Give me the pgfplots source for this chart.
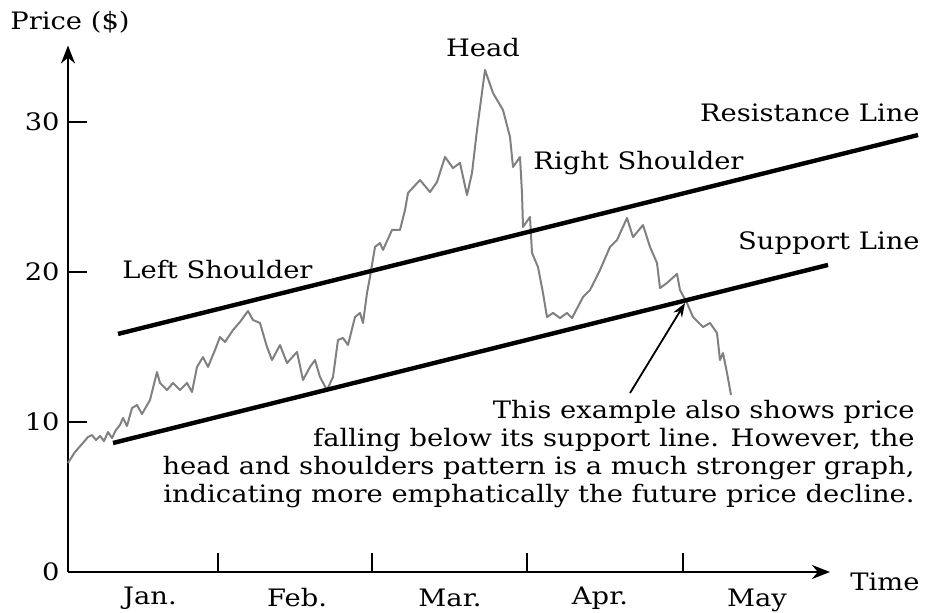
\documentclass[border=0pt]{standalone}
\usepackage{fontspec}
\setmainfont[FakeStretch=1.14]{DejaVu Serif}
\usepackage{pgfplots}
\pgfplotsset{compat=1.18}
\usetikzlibrary{arrows.meta}

\begin{document}
\fontsize{12}{14}\selectfont
\begin{tikzpicture}
\begin{axis}[
    x=0.5pt, y=7.5pt,
    xmin=0, xmax=762,
    ymin=0, ymax=35.1,
    axis lines=left,
    axis line style={line width=1.2pt, -{Stealth[length=9pt,width=7pt]}},
    xtick={150,304,459,615},
    xticklabels={},
    ytick={0,10,20,30},
    tick align=inside,
    major tick length=9.5pt,
    tick style={line width=1pt, black},
    ticklabel style={font=\fontsize{12}{14}\selectfont},
    /pgf/number format/assume math mode=true,
    clip=false,
]
% price path
\addplot[black!50, line width=1pt, line join=round] coordinates {
(0,7.27) (7,8.0) (14,8.53) (20,9.0) (24,9.13) (28,8.8) (32,9.07) (36,8.73)
(40,9.33) (44,8.93) (48,9.47) (52,9.8) (55,10.27) (59,9.73) (64,10.93)
(69,11.13) (74,10.53) (82,11.47) (89,13.33) (92,12.6) (99,12.13) (105,12.6)
(112,12.13) (119,12.6) (124,12.0) (129,13.67) (135,14.33) (140,13.67)
(147,14.8) (152,15.67) (157,15.33) (165,16.13) (172,16.67) (180,17.4)
(185,16.8) (192,16.6) (199,15.0) (204,14.13) (212,15.13) (219,13.93)
(229,14.67) (235,12.8) (242,13.67) (247,14.13) (252,13.0) (259,12.13)
(265,13.0) (270,15.47) (275,15.6) (280,15.13) (287,17.0) (292,17.27)
(295,16.6) (299,18.6) (302,19.67) (307,21.67) (312,21.93) (315,21.47)
(324,22.8) (332,22.8) (337,24.13) (340,25.27) (352,26.13) (362,25.33)
(369,26.0) (377,27.67) (385,26.93) (392,27.27) (399,25.13) (404,26.6)
(409,29.47) (417,33.47) (425,31.93) (435,30.8) (442,29.0) (445,27.0)
(452,27.67) (454,25.27) (455,23.0) (462,23.67) (464,21.27) (470,20.33)
(475,18.6) (479,17.0) (485,17.27) (492,16.93) (499,17.27) (504,16.93)
(515,18.33) (522,18.8) (532,20.13) (542,21.67) (549,22.13) (559,23.6)
(565,22.33) (575,23.13) (582,21.67) (589,20.6) (592,18.93) (599,19.27)
(609,19.87) (612,18.8) (619,17.93) (625,17.0) (635,16.33) (642,16.6)
(649,15.93) (652,14.13) (655,14.6) (659,13.27) (663,11.8)
};
% resistance line
\addplot[black, line width=2.2pt] coordinates {(50,15.87) (850,29.13)};
% support line
\addplot[black, line width=2.2pt] coordinates {(45,8.6) (760,20.47)};

\draw[line width=0.9pt, -{Stealth[length=7pt,width=5pt]}] (axis cs:562,11.93) -- (axis cs:617,17.93);

\node[anchor=west] at (axis cs:-66,36.67) {Price (\$)};
\node at (axis cs:415,34.93) {Head};
\node[anchor=east] at (axis cs:860,30.6) {Resistance Line};
\node[anchor=west] at (axis cs:457,27.27) {Right Shoulder};
\node[anchor=east] at (axis cs:860,21.93) {Support Line};
\node[anchor=west] at (axis cs:46,20.13) {Left Shoulder};
\node[anchor=east, align=right, inner sep=0pt] at (axis cs:847,7.87)
  {This example also shows price\\
   falling below its support line. However, the\\
   head and shoulders pattern is a much stronger graph,\\
   indicating more emphatically the future price decline.};
\node[anchor=west] at (axis cs:774,-0.67) {Time};
\node at (axis cs:82,-1.73) {Jan.};
\node at (axis cs:229,-1.73) {Feb.};
\node at (axis cs:382,-1.73) {Mar.};
\node at (axis cs:532,-1.73) {Apr.};
\node at (axis cs:689,-1.87) {May};

\coordinate (bbA) at (axis cs:-68,38.133);
\coordinate (bbB) at (axis cs:857,-2.733);
\end{axis}
\pgfresetboundingbox
\path[use as bounding box] (bbA) rectangle (bbB);
\end{tikzpicture}
\end{document}
